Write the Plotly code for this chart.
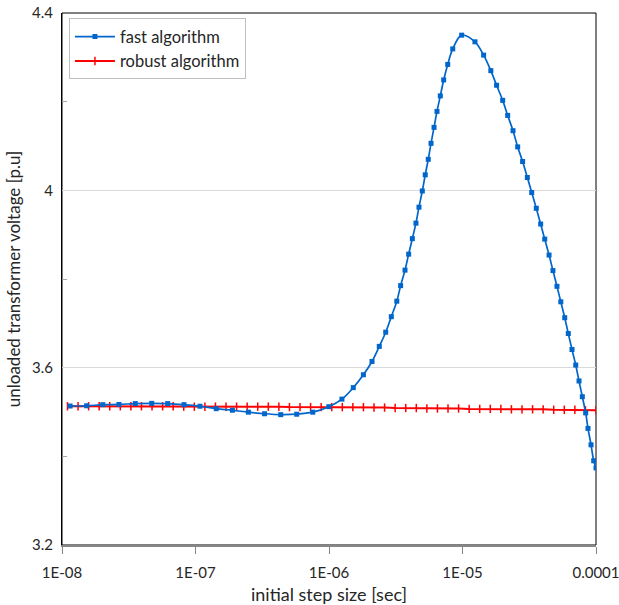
import plotly.graph_objects as go

# fast algorithm (blue) sample points: step size [sec], voltage [p.u]
fast_x = [1.15e-8, 1.53e-8, 2.02e-8, 2.67e-8, 3.54e-8, 4.70e-8, 6.19e-8, 8.20e-8,
          1.08e-7, 1.43e-7, 1.89e-7, 2.49e-7, 3.29e-7, 4.35e-7, 5.73e-7, 7.56e-7,
          9.97e-7, 1.25e-6, 1.52e-6, 1.81e-6, 2.10e-6, 2.38e-6, 2.66e-6, 2.93e-6,
          3.22e-6, 3.44e-6, 3.71e-6, 3.95e-6, 4.21e-6, 4.48e-6, 4.72e-6, 5.00e-6,
          5.26e-6, 5.54e-6, 5.81e-6, 6.12e-6, 6.44e-6, 6.82e-6, 7.23e-6, 7.75e-6,
          8.45e-6, 9.86e-6, 1.24e-5, 1.44e-5, 1.63e-5, 1.80e-5, 2.00e-5, 2.18e-5,
          2.39e-5, 2.59e-5, 2.82e-5, 3.06e-5, 3.30e-5, 3.57e-5, 3.85e-5, 4.13e-5,
          4.45e-5, 4.76e-5, 5.10e-5, 5.45e-5, 5.83e-5, 6.20e-5, 6.61e-5, 7.05e-5,
          7.46e-5, 7.90e-5, 8.37e-5, 8.71e-5, 9.18e-5, 9.61e-5, 1.0e-4]
fast_y = [3.5135, 3.514, 3.5165, 3.517, 3.519, 3.5195, 3.519, 3.5165,
          3.513, 3.5075, 3.504, 3.4996, 3.496, 3.494, 3.495, 3.4996,
          3.512, 3.529, 3.555, 3.584, 3.614, 3.648, 3.680, 3.715,
          3.750, 3.785, 3.820, 3.856, 3.891, 3.926, 3.962, 3.9985,
          4.035, 4.070, 4.106, 4.142, 4.178, 4.213, 4.249, 4.284,
          4.319, 4.350, 4.335, 4.305, 4.270, 4.237, 4.203, 4.169,
          4.1345, 4.098, 4.065, 4.029, 3.995, 3.9595, 3.924, 3.890,
          3.854, 3.819, 3.7835, 3.7486, 3.7127, 3.677, 3.641, 3.606,
          3.570, 3.5345, 3.498, 3.463, 3.426, 3.390, 3.374]

# robust algorithm (red): steps from 1e-4 down by factor 1.2
robust_steps = list(range(50, -1, -1))
robust_x = [1e-4 / 1.2 ** k for k in robust_steps]
robust_y = [3.513, 3.513, 3.513, 3.513, 3.513, 3.513, 3.513, 3.513, 3.513, 3.513,
            3.513, 3.512, 3.512, 3.512, 3.512, 3.512, 3.512, 3.512, 3.512, 3.512,
            3.512, 3.511, 3.511, 3.511, 3.511, 3.511, 3.511, 3.511, 3.511, 3.510,
            3.510, 3.509, 3.509, 3.509, 3.508, 3.508, 3.508, 3.508, 3.507, 3.507,
            3.507, 3.507, 3.506, 3.506, 3.506, 3.506, 3.505, 3.505, 3.505, 3.504,
            3.504]

x_tickvals = [1e-8, 1e-7, 1e-6, 1e-5, 1e-4]
x_ticktext = ["1E-08", "1E-07", "1E-06", "1E-05", "0.0001"]
y_tickvals = [3.2, 3.6, 4.0, 4.4]
y_ticktext = ["3.2", "3.6", "4", "4.4"]

FONT = "Lato"
TXT = "#262626"

fig = go.Figure()
fig.add_trace(go.Scatter(
    x=robust_x, y=robust_y, mode="lines+markers", name="robust algorithm",
    line=dict(color="#FF0000", width=2),
    marker=dict(symbol="line-ns-open", size=6, color="#FF0000",
                line=dict(color="#FF0000", width=1.5)),
    legendrank=2))
fig.add_trace(go.Scatter(
    x=fast_x, y=fast_y, mode="lines+markers", name="fast algorithm",
    line=dict(color="#0066CC", width=1.7, shape="spline", smoothing=1),
    marker=dict(symbol="square", size=5, color="#0066CC"),
    legendrank=1))

fig.add_shape(type="rect", xref="paper", yref="paper", x0=0, x1=1, y0=0, y1=1,
              line=dict(color="black", width=1), layer="below")

fig.update_layout(
    width=619, height=605,
    margin=dict(l=62, r=23, t=13, b=60),
    paper_bgcolor="white", plot_bgcolor="white",
    font=dict(family=FONT, color=TXT, size=16),
    showlegend=True,
    legend=dict(x=0.013, y=0.99, xanchor="left", yanchor="top",
                bgcolor="white", bordercolor="#BFBFBF", borderwidth=1,
                font=dict(family=FONT, size=16.5, color=TXT),
                itemwidth=40),
    xaxis=dict(type="log", range=[-8, -4], tickvals=x_tickvals, ticktext=x_ticktext,
               automargin=False, ticklabeloverflow="allow",
               showgrid=False, zeroline=False,
               showline=True, linecolor="#868686", linewidth=2,
               ticks="outside", ticklen=7, tickcolor="#868686", tickwidth=1,
               ticklabelstandoff=6, tickfont=dict(size=15),
               title=dict(text="initial step size [sec]", standoff=8,
                          font=dict(family=FONT, size=18, color=TXT))),
    yaxis=dict(range=[3.2, 4.4], tickvals=y_tickvals, ticktext=y_ticktext,
               automargin=False, ticklabeloverflow="allow",
               showgrid=True, gridcolor="#D9D9D9", gridwidth=1, zeroline=False,
               showline=True, linecolor="black", linewidth=1,
               ticks="", ticklabelstandoff=5, tickfont=dict(size=15),
               minor=dict(tickvals=[3.4, 3.8, 4.2], ticks="inside", ticklen=5,
                          tickcolor="#A6A6A6", showgrid=False),
               title=dict(text="unloaded transformer voltage [p.u]", standoff=7,
                          font=dict(family=FONT, size=17, color=TXT))),
)

fig.write_html("out.html")
